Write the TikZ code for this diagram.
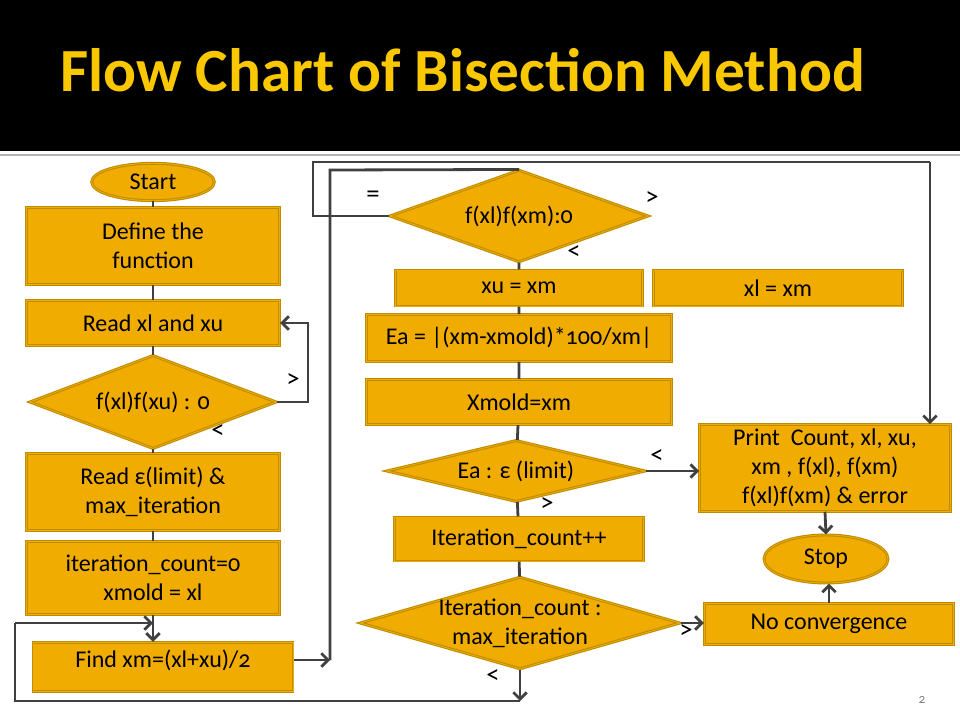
\documentclass[tikz,border=0pt]{standalone}
\usepackage{fontspec}
\setmainfont{Carlito}[Numbers=OldStyle]
\usetikzlibrary{shapes.geometric,arrows.meta,backgrounds}
\definecolor{orbox}{RGB}{240,172,0}
\definecolor{bordure}{RGB}{190,140,0}
\definecolor{gristrait}{RGB}{64,64,64}
\definecolor{titre}{RGB}{250,200,0}

\begin{document}
\begin{tikzpicture}[x=0.75pt,y=-0.75pt]
\tikzstyle{ligne}=[line width=2.1pt,draw=gristrait]
\tikzstyle{lien}=[ligne,->,>={Straight Barb[length=5pt,width=10pt]}]
\tikzset{forme/.style={draw=bordure,line width=0.8pt,double=orbox,double distance=0.6pt,fill=orbox,
  align=center,font=\fontsize{18}{21.6}\selectfont},
boite/.style={forme,rectangle},
bout/.style={forme,ellipse},
losange/.style={forme,diamond,inner sep=0pt,aspect=#1},
losange/.default={2.7},
signe/.style={font=\fontsize{20}{22}\selectfont,inner sep=0pt}}
\useasboundingbox (0,0) rectangle (960,720);
\fill[white] (0,0) rectangle (960,720);
\fill[black] (0,0) rectangle (960,151);
\draw[black!30,line width=1.2pt] (0,155) -- (960,155);
\node[anchor=base west,inner sep=0pt,text=titre,font=\fontsize{46}{54}\selectfont\bfseries] (titre) at (60,92) {Flow Chart of Bisection Method};

\node[bout,minimum width=92pt,minimum height=28pt] (start) at (153,182) {Start};
\node[boite,minimum width=190pt,minimum height=58pt] (fonction) at (153,246) {Define the\\function};
\node[boite,minimum width=190pt,minimum height=34pt] (lire) at (153,323) {Read xl and xu};
\node[losange,minimum width=185pt,minimum height=70pt] (test1) at (153,402) {f(xl)f(xu) : 0};
\node[boite,minimum width=190pt,minimum height=58pt] (limite) at (153,492) {Read ε(limit) \&\\max\_iteration};
\node[boite,minimum width=190pt,minimum height=55pt] (init) at (153,578) {iteration\_count=0\\xmold = xl};
\node[boite,minimum width=195pt,minimum height=37pt,text depth=12pt] (milieu) at (163,667) {Find xm=(xl+xu)/2};

\node[losange=2.8,minimum width=194pt,minimum height=69pt] (test2) at (519,216) {f(xl)f(xm):0};
\node[boite,minimum width=185pt,minimum height=27pt] (xu) at (519,288) {xu = xm};
\node[boite,minimum width=187pt,minimum height=27pt] (xl) at (778,288) {xl = xm};
\node[boite,minimum width=229pt,minimum height=35pt] (ea) at (519,338) {Ea = |(xm-xmold)*100/xm|};
\node[boite,minimum width=229pt,minimum height=34pt] (xmold) at (519,402) {Xmold=xm};
\node[losange=4.2,minimum width=194pt,minimum height=46pt] (test3) at (516,471) {Ea : ε (limit)};
\node[boite,minimum width=187pt,minimum height=33pt] (iter) at (519,539) {Iteration\_count++};
\node[losange=3.5,inner xsep=-10pt,inner ysep=-3pt,minimum width=240pt,minimum height=69pt] (test4) at (520,623) {Iteration\_count :\\max\_iteration};

\node[boite,minimum width=188pt,minimum height=60pt] (impr) at (825,468) {Print\ \ Count, xl, xu,\\xm , f(xl), f(xm)\\f(xl)f(xm) \& error};
\node[bout,minimum width=93pt,minimum height=36pt] (stop) at (826,559) {Stop};
\node[boite,minimum width=187pt,minimum height=31pt] (nonconv) at (829,624) {No convergence};

\node[signe] (sup1) at (293,381) {>};
\node[signe] (inf1) at (218,432) {<};
\node[signe] (egal) at (373,197) {=};
\node[signe] (sup2) at (652,199) {>};
\node[signe] (inf2) at (574,253) {<};
\node[signe] (inf3) at (657,457) {<};
\node[signe] (sup3) at (547,505) {>};
\node[signe] (sup4) at (686,632) {>};
\node[signe] (inf4) at (493,677) {<};
\node[text=black!50,font=\fontsize{10}{11}\selectfont] (page) at (922,700) {2};

\coordinate (r1) at (308,402);
\coordinate (b1) at (330,660);
\coordinate (b2) at (330,170);
\coordinate (e1) at (313,216);
\coordinate (e2) at (313,162);
\coordinate (e3) at (930,162);
\coordinate (g1) at (825,216);
\coordinate (g2) at (825,343);
\coordinate (f1) at (520,701);
\coordinate (f2) at (15,701);
\coordinate (f3) at (15,623);

\draw[ligne] (start) -- (fonction) -- (lire) -- (test1) -- (limite) -- (init);
\draw[lien] (init.south) -- (init.south |- milieu.north);
\draw[lien] (test1.east) -- (r1) |- (lire.east);
\draw[lien] (milieu.east |- b1) -- (b1);
\draw[ligne] (b1) -- (b2) -- (test2.north);
\draw[ligne] (test2.west) -- (e1) -- (e2) -- (e3);
\draw[lien] (e3) -- (e3 |- impr.north);
\begin{pgfonlayer}{background}
\draw[lien] (test2.east) -- (g1) -- (g2) -- (g2 -| ea.east);
\end{pgfonlayer}
\draw[ligne] (test2) -- (xu) -- (ea) -- (xmold) -- (test3) -- (iter) -- (test4);
\draw[lien] (test3.east) -- (test3.east -| impr.west);
\draw[lien] (impr.south) -- (stop.north);
\draw[lien] (nonconv.north) -- (nonconv.north |- stop.south);
\draw[lien] (test4.east) -- (test4.east -| nonconv.west);
\draw[lien] (test4.south) -- (f1);
\draw[ligne] (f1) -- (f2) -- (f3);
\draw[lien] (f3) -- (f3 -| init.south);
\end{tikzpicture}
\end{document}
